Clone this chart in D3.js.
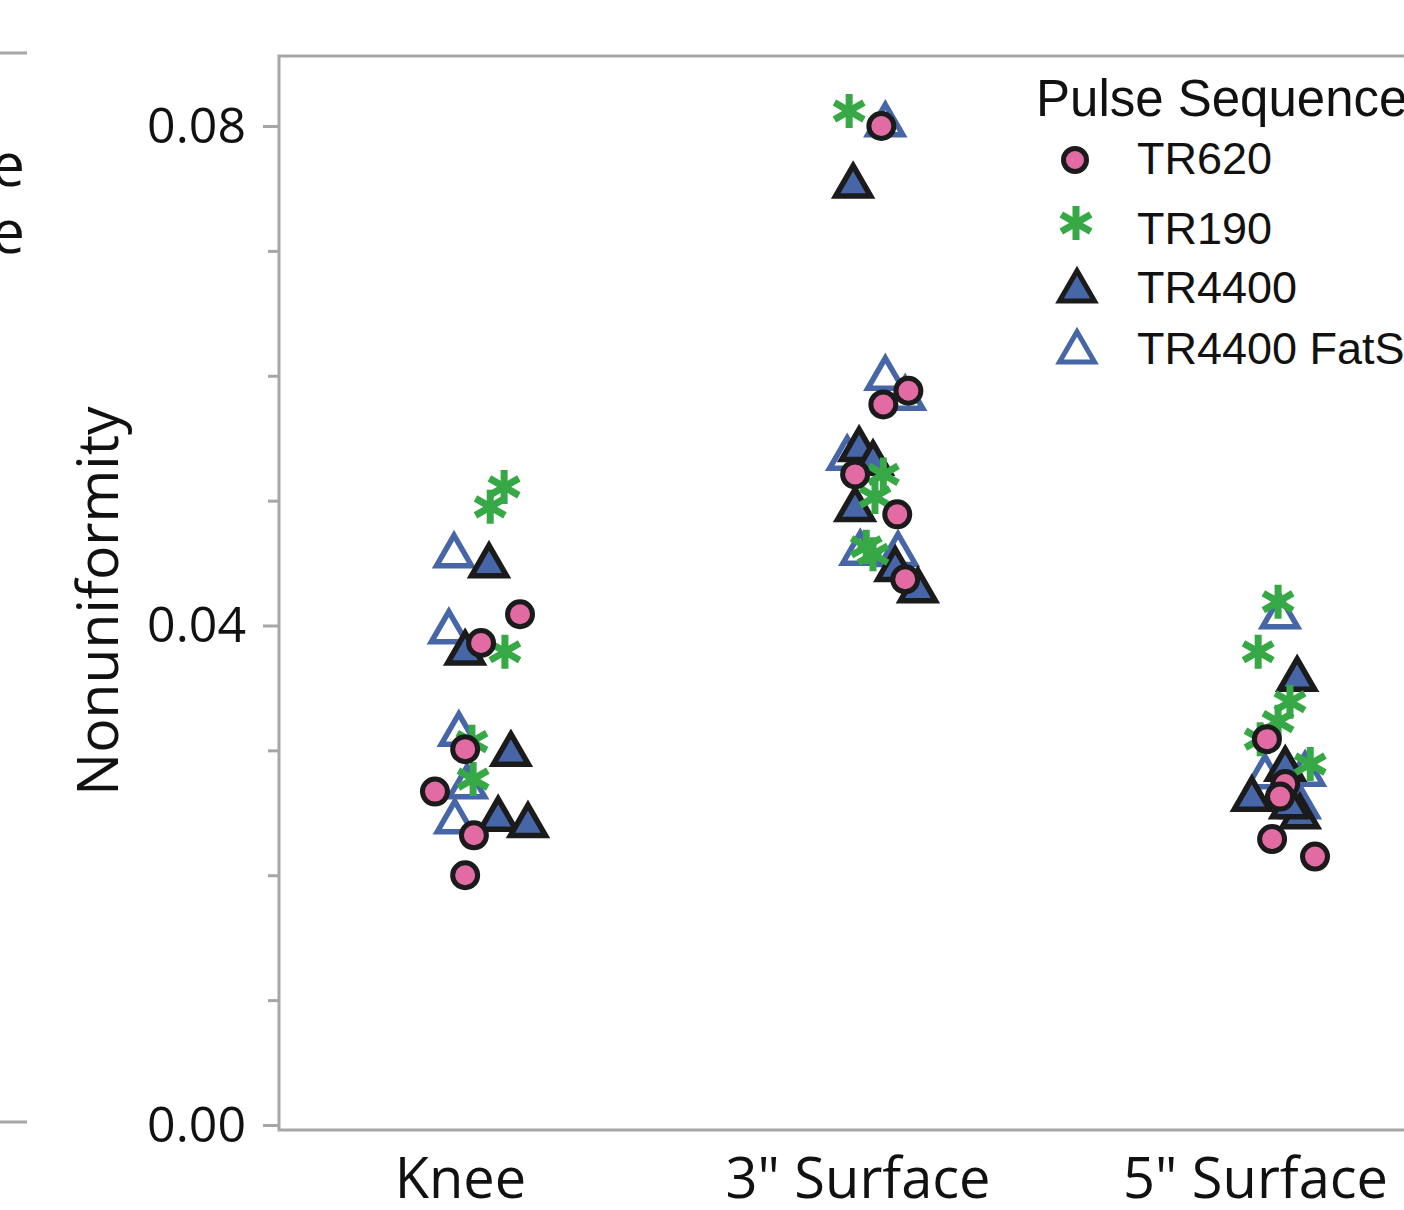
<!DOCTYPE html>
<html>
<head>
<meta charset="utf-8">
<script src="https://cdn.jsdelivr.net/npm/d3@7"></script>
<style>
  body { margin: 0; background: #fff; }
  svg { display: block; }
</style>
</head>
<body>
<svg id="chart"></svg>
<script>
// categories and series
const categories = ["Knee", "3\" Surface", "5\" Surface"];
const seriesNames = ["TR620", "TR190", "TR4400", "TR4400 FatSat"];

// values, one list per category (Knee, 3", 5")
const tr620Values = [
  [0.0409, 0.0386, 0.0301, 0.0267, 0.0232, 0.0200],
  [0.0800, 0.0588, 0.0577, 0.0521, 0.0489, 0.0437],
  [0.0309, 0.0273, 0.0263, 0.0229, 0.0215]
];
const tr190Values = [
  [0.0511, 0.0495, 0.0379, 0.0307, 0.0277],
  [0.0812, 0.0521, 0.0503, 0.0457, 0.0463],
  [0.0419, 0.0379, 0.0339, 0.0323, 0.0309, 0.0289]
];
const tr4400Values = [
  [0.0448, 0.0378, 0.0297, 0.0245, 0.0240],
  [0.0752, 0.0541, 0.0530, 0.0493, 0.0445, 0.0428],
  [0.0357, 0.0285, 0.0261, 0.0247, 0.0255]
];
const fatSatValues = [
  [0.0456, 0.0395, 0.0313, 0.0271, 0.0243],
  [0.0801, 0.0598, 0.0582, 0.0534, 0.0458, 0.0457],
  [0.0407, 0.0279, 0.0281, 0.0255, 0.0267]
];

// horizontal jitter, as a fraction of the category step
const tr620Jitter = [
  [0.151, 0.053, 0.013, -0.063, 0.035, 0.013],
  [0.060, 0.128, 0.065, -0.006, 0.100, 0.120],
  [0.030, 0.076, 0.063, 0.043, 0.151]
];
const tr190Jitter = [
  [0.111, 0.076, 0.113, 0.030, 0.033],
  [-0.021, 0.065, 0.044, 0.039, 0.022],
  [0.058, 0.008, 0.088, 0.058, 0.013, 0.139]
];
const tr4400Jitter = [
  [0.073, 0.013, 0.128, 0.096, 0.171],
  [-0.011, 0.004, 0.039, -0.006, 0.095, 0.152],
  [0.106, 0.076, -0.008, 0.113, 0.088]
];
const fatSatJitter = [
  [-0.015, -0.028, -0.003, 0.018, -0.013],
  [0.070, 0.070, 0.120, -0.026, 0.007, 0.102],
  [0.063, 0.025, 0.126, 0.113, 0.068]
];

const yMajorTicks = [0, 0.04, 0.08];
const yMinorTicks = [0.01, 0.02, 0.03, 0.05, 0.06, 0.07];

const width = 1404;
const height = 1210;

const pink = "#e36ba3";
const green = "#36a845";
const blue = "#4766a8";
const ink = "#1b1b1b";
const frameGray = "#a6a6a6";

const svg = d3.select("#chart")
  .attr("width", width)
  .attr("height", height);

const yScale = d3.scaleLinear()
  .domain([0, 0.08])
  .range([1125, 126]);

const xScale = d3.scalePoint()
  .domain(categories)
  .range([460, 1255]);

// leftover bits of the neighbouring panel
svg.append("line").attr("x1", 0).attr("x2", 27).attr("y1", 53).attr("y2", 53)
  .attr("stroke", frameGray).attr("stroke-width", 3);
svg.append("line").attr("x1", 0).attr("x2", 27).attr("y1", 1122).attr("y2", 1122)
  .attr("stroke", frameGray).attr("stroke-width", 3);
svg.selectAll("text.stub")
  .data([186, 253])
  .enter()
  .append("text")
  .attr("class", "stub")
  .attr("x", 25)
  .attr("y", d => d)
  .attr("text-anchor", "end")
  .attr("font-family", "Open Sans")
  .attr("font-size", 60)
  .attr("fill", "#111")
  .text("e");

// frame
svg.append("rect")
  .attr("x", 279)
  .attr("y", 56)
  .attr("width", 1300)
  .attr("height", 1074)
  .attr("fill", "none")
  .attr("stroke", frameGray)
  .attr("stroke-width", 3);

// y axis
const yAxis = svg.append("g")
  .attr("transform", "translate(279,0)")
  .call(d3.axisLeft(yScale).tickValues(yMajorTicks).tickSize(16).tickPadding(17).tickFormat(d3.format(".2f")));
yAxis.select(".domain").remove();
yAxis.selectAll("line").attr("stroke", frameGray).attr("stroke-width", 3);
yAxis.selectAll("text")
  .attr("font-family", "Open Sans")
  .attr("font-size", 50)
  .attr("fill", "#111");

const yMinor = svg.append("g")
  .attr("transform", "translate(279,0)")
  .call(d3.axisLeft(yScale).tickValues(yMinorTicks).tickSize(11).tickFormat(""));
yMinor.select(".domain").remove();
yMinor.selectAll("line").attr("stroke", frameGray).attr("stroke-width", 3);

svg.append("text")
  .attr("transform", "translate(118,601) rotate(-90)")
  .attr("text-anchor", "middle")
  .attr("font-family", "Open Sans")
  .attr("font-size", 57)
  .attr("fill", "#111")
  .text("Nonuniformity");

// x axis
const xAxis = svg.append("g")
  .attr("transform", "translate(0,1128)")
  .call(d3.axisBottom(xScale).tickSize(0).tickPadding(30));
xAxis.select(".domain").remove();
xAxis.selectAll("text")
  .attr("font-family", "Open Sans")
  .attr("font-size", 56)
  .attr("fill", "#111");

// marker shapes
const triSide = 35;
const triH = triSide * Math.sqrt(3) / 2;
const triPath = `M0,${-2 * triH / 3}L${triSide / 2},${triH / 3}L${-triSide / 2},${triH / 3}Z`;
const starR = 17;
const starPath = [90, 30, 150].map(a => {
  const r = a * Math.PI / 180;
  const dx = starR * Math.cos(r), dy = starR * Math.sin(r);
  return `M${-dx},${-dy}L${dx},${dy}`;
}).join("");

const flatten = (values, jitter) => {
  const pts = [];
  values.forEach((list, ci) => {
    list.forEach((v, i) => pts.push({ cat: categories[ci], value: v, jitter: jitter[ci][i] }));
  });
  return pts;
};

const px = d => xScale(d.cat) + d.jitter * xScale.step();
const py = d => yScale(d.value);

const drawTriangles = (data, fill, stroke) => {
  svg.append("g").selectAll("path")
    .data(data)
    .enter()
    .append("path")
    .attr("d", triPath)
    .attr("transform", d => `translate(${px(d)},${py(d)})`)
    .attr("fill", fill)
    .attr("stroke", stroke)
    .attr("stroke-width", 5.5)
    .attr("stroke-linejoin", "miter");
};

drawTriangles(flatten(fatSatValues, fatSatJitter), "#fff", blue);
drawTriangles(flatten(tr4400Values, tr4400Jitter), blue, ink);

svg.append("g").selectAll("path")
  .data(flatten(tr190Values, tr190Jitter))
  .enter()
  .append("path")
  .attr("d", starPath)
  .attr("transform", d => `translate(${px(d)},${py(d)})`)
  .attr("fill", "none")
  .attr("stroke", green)
  .attr("stroke-width", 7);

svg.append("g").selectAll("circle")
  .data(flatten(tr620Values, tr620Jitter))
  .enter()
  .append("circle")
  .attr("cx", px)
  .attr("cy", py)
  .attr("r", 12.5)
  .attr("fill", pink)
  .attr("stroke", ink)
  .attr("stroke-width", 5);

// legend
const legend = svg.append("g");
legend.append("text")
  .attr("x", 1036)
  .attr("y", 116)
  .attr("font-family", "Liberation Sans")
  .attr("font-size", 51)
  .attr("fill", "#111")
  .text("Pulse Sequence");

const legendRows = [174, 244, 303, 364];
legend.selectAll("text.item")
  .data(seriesNames)
  .enter()
  .append("text")
  .attr("class", "item")
  .attr("x", 1137)
  .attr("y", (d, i) => legendRows[i])
  .attr("font-family", "Liberation Sans")
  .attr("font-size", 45)
  .attr("fill", "#111")
  .text(d => d);

legend.append("circle")
  .attr("cx", 1075).attr("cy", 160).attr("r", 11.5)
  .attr("fill", pink).attr("stroke", ink).attr("stroke-width", 5);
legend.append("path")
  .attr("d", starPath)
  .attr("transform", "translate(1076,223)")
  .attr("fill", "none").attr("stroke", green).attr("stroke-width", 7);
legend.append("path")
  .attr("d", triPath)
  .attr("transform", "translate(1077,291)")
  .attr("fill", blue).attr("stroke", ink).attr("stroke-width", 5);
legend.append("path")
  .attr("d", triPath)
  .attr("transform", "translate(1077,352)")
  .attr("fill", "#fff").attr("stroke", blue).attr("stroke-width", 5);
</script>
</body>
</html>
